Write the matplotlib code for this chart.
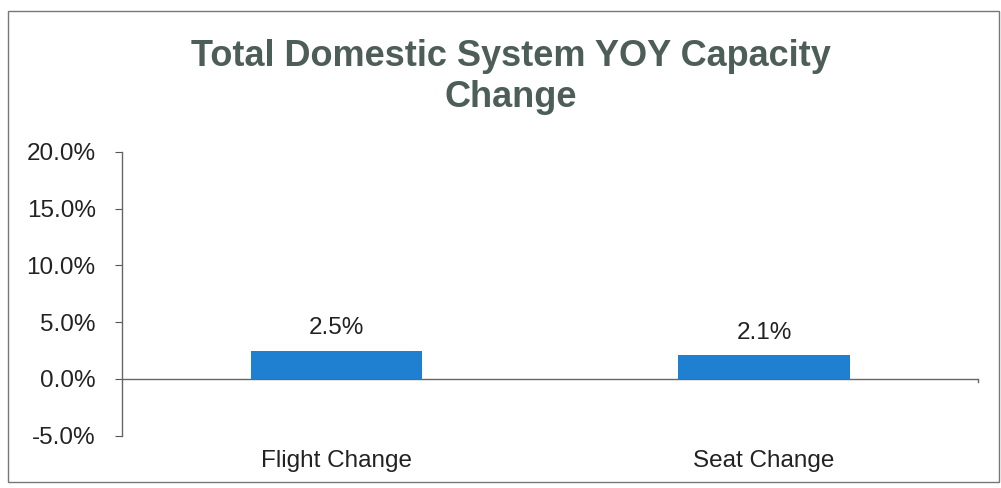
import matplotlib.pyplot as plt
from matplotlib.ticker import FuncFormatter

categories = ["Flight Change", "Seat Change"]
values = [2.5, 2.1]
bar_labels = ["2.5%", "2.1%"]

plt.rcParams['font.family'] = ['Liberation Sans', 'DejaVu Sans']

fig = plt.figure(figsize=(10.01, 4.88), dpi=100)
ax = fig.add_axes([0.122, 0.107, 0.855, 0.582])

x = range(len(categories))
bars = ax.bar(x, values, width=0.4, color="#1f7fd0", zorder=3)

for b, lab in zip(bars, bar_labels):
    ax.text(b.get_x() + b.get_width() / 2, b.get_height() + 1.0, lab,
            ha="center", va="bottom", fontsize=17.5, color="#222222")

ax.set_xlim(-0.5, 1.5)
ax.set_ylim(-5, 20)
ax.set_yticks([-5, 0, 5, 10, 15, 20])
ax.yaxis.set_major_formatter(FuncFormatter(lambda v, p: f"{v:.1f}%"))
ax.tick_params(axis="y", labelsize=17.5, colors="#555555", length=5, width=0.8,
               direction="out", pad=14)
for t in ax.get_yticklabels():
    t.set_color("#222222")

ax.set_xticks(list(x))
ax.set_xticklabels(categories, fontsize=17.5, color="#222222")
ax.tick_params(axis="x", length=0, pad=10)

ax.axhline(0, color="#666666", lw=1.0, zorder=2)
ax.plot([1.5, 1.5], [0, -0.3], color="#666666", lw=1.0, clip_on=False)
for s in ["top", "right", "bottom"]:
    ax.spines[s].set_visible(False)
ax.spines["left"].set_color("#666666")
ax.spines["left"].set_linewidth(1.0)

fig.text(0.51, 0.842, "Total Domestic System YOY Capacity\nChange", ha="center",
         va="center", fontsize=26, fontweight="bold", color="#4d5d58",
         linespacing=1.2)

# outer border of the chart area
border = plt.Rectangle((0.008, 0.012), 0.99, 0.965, transform=fig.transFigure,
                       fill=False, edgecolor="#777777", lw=1.0)
fig.patches.append(border)

fig.savefig("out.png", dpi=100)
